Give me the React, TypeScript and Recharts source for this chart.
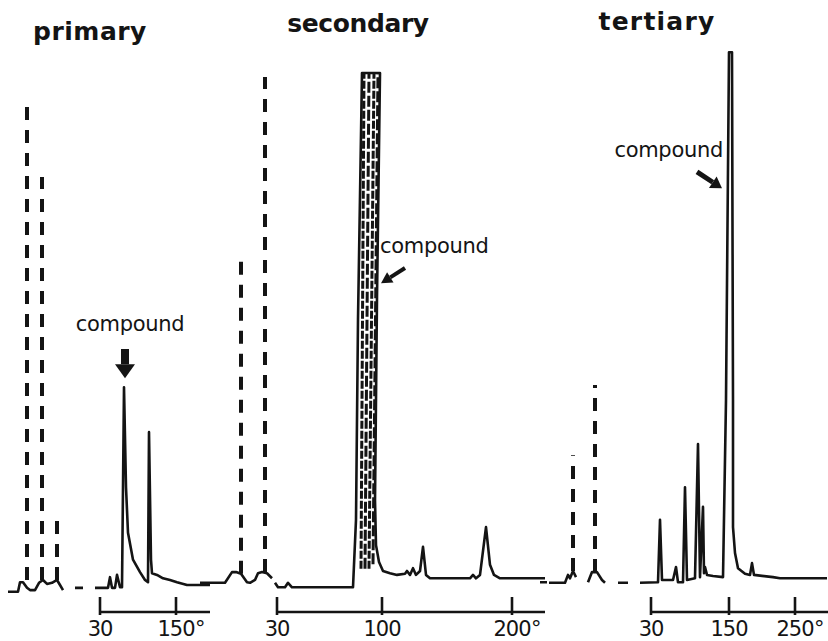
import { LineChart, Line, XAxis, YAxis, ReferenceLine, ReferenceDot } from "recharts"

const INK = "#141414"
const FONT = '"DejaVu Sans", sans-serif'

type Pt = { x: number; y: number | null }

// x = retention position (chart units), y = detector response (% of full scale)
const primaryTrace: Pt[] = [
  { x: 1, y: 3.6 }, { x: 6, y: 3.6 }, { x: 7, y: 5.3 }, { x: 8.5, y: 5.3 }, { x: 10.5, y: 4.3 },
  { x: 12, y: 3.9 }, { x: 14.5, y: 3.9 }, { x: 16.5, y: 5.2 }, { x: 18.5, y: 5.7 }, { x: 20.5, y: 5.0 },
  { x: 23, y: 5.2 }, { x: 25.5, y: 5.7 }, { x: 27, y: 4.8 }, { x: 28.5, y: 3.9 }, { x: 30, y: null },
  { x: 34.5, y: 4.3 }, { x: 38.5, y: 4.3 }, { x: 40, y: null },
  { x: 44.5, y: 4.3 }, { x: 51, y: 4.3 }, { x: 52, y: 6.2 }, { x: 53, y: 4.3 }, { x: 54.5, y: 4.3 },
  { x: 55.5, y: 6.6 }, { x: 57, y: 4.4 }, { x: 58, y: 4.4 }, { x: 59, y: 40.0 }, { x: 60, y: 22.2 },
  { x: 61, y: 14.1 }, { x: 63.5, y: 9.3 }, { x: 67, y: 7.1 }, { x: 69.5, y: 5.7 }, { x: 71, y: 5.3 },
  { x: 71.5, y: 32.0 }, { x: 72.5, y: 9.3 }, { x: 73, y: 6.9 }, { x: 75.5, y: 6.6 }, { x: 78.5, y: 6.0 },
  { x: 82, y: 5.7 }, { x: 85.5, y: 5.3 }, { x: 90.5, y: 4.8 }, { x: 102, y: 4.8 },
]
const primaryPeakX = [10.5, 18, 25.5]
const primaryPeakBase = [5.7, 5.7, 5.7]
const primaryPeakTop = [89.9, 77.4, 17.3]
const primaryTempTicks = [47, 85]
const primaryTempLabels = ["30", "150°"]
const primaryScale = [47, 102]

const secondaryTrace: Pt[] = [
  { x: 0, y: 5.2 }, { x: 12.5, y: 5.2 }, { x: 16, y: 7.1 }, { x: 18, y: 7.1 }, { x: 20.5, y: 6.8 },
  { x: 23.5, y: 5.3 }, { x: 25, y: 5.2 }, { x: 27.5, y: 5.7 }, { x: 29, y: 6.9 }, { x: 31, y: 7.1 },
  { x: 33.5, y: 6.9 }, { x: 36, y: 6.0 }, { x: 37, y: null },
  { x: 37.5, y: 5.2 }, { x: 39, y: 4.4 }, { x: 42.5, y: 4.4 }, { x: 44, y: 5.2 }, { x: 46, y: 4.4 },
  { x: 76.5, y: 4.4 }, { x: 78, y: 16.4 }, { x: 79, y: 52.0 }, { x: 81, y: 95.9 }, { x: 90, y: 95.9 },
  { x: 88.5, y: 56.0 }, { x: 87.5, y: 19.9 }, { x: 88, y: 11.9 }, { x: 89.5, y: 8.9 }, { x: 91.5, y: 7.3 },
  { x: 95, y: 6.9 }, { x: 98.5, y: 6.6 }, { x: 102.5, y: 6.8 }, { x: 103.5, y: 7.3 }, { x: 105, y: 6.6 },
  { x: 106.5, y: 7.8 }, { x: 108, y: 6.6 }, { x: 110, y: 7.3 }, { x: 111.5, y: 11.6 }, { x: 113, y: 6.6 },
  { x: 115, y: 6.0 }, { x: 135, y: 6.0 }, { x: 136.5, y: 6.6 }, { x: 138, y: 6.0 }, { x: 140, y: 6.6 },
  { x: 143, y: 15.1 }, { x: 145, y: 8.4 }, { x: 147, y: 6.6 }, { x: 150, y: 6.0 }, { x: 172.5, y: 6.0 },
]
const secondaryPeakX = [20.5, 32.5]
const secondaryPeakBase = [6.8, 7.1]
const secondaryPeakTop = [62.3, 95.2]
// pen strokes filling the off-scale compound peak
const secondaryInnerFrom = [[80.5, 7.7], [82.5, 7.7], [84.5, 7.7], [86.5, 8.5]]
const secondaryInnerTo = [[82, 95.9], [84.5, 95.9], [87, 95.9], [89, 95.9]]
const secondaryTempTicks = [38.5, 91, 156]
const secondaryTempLabels = ["30", "100", "200°"]
const secondaryScale = [38.5, 172.5]

const tertiaryTrace: Pt[] = [
  { x: 1, y: 5.3 }, { x: 4.5, y: 5.3 }, { x: 5, y: null },
  { x: 5.5, y: 5.2 }, { x: 13.5, y: 5.2 }, { x: 15, y: 6.6 }, { x: 16, y: 6.0 }, { x: 17.5, y: 7.3 },
  { x: 19, y: 6.2 }, { x: 20, y: null },
  { x: 25, y: 5.3 }, { x: 27, y: 7.1 }, { x: 29.5, y: 7.1 }, { x: 32, y: 5.7 }, { x: 33.5, y: 5.2 },
  { x: 35, y: null }, { x: 40, y: 5.2 }, { x: 45, y: 5.2 }, { x: 47, y: null },
  { x: 51, y: 5.2 }, { x: 60, y: 5.3 }, { x: 61, y: 16.4 }, { x: 62, y: 5.7 }, { x: 67.5, y: 5.7 },
  { x: 69, y: 8.0 }, { x: 70, y: 5.3 }, { x: 72.5, y: 5.3 }, { x: 73.5, y: 22.2 }, { x: 74.5, y: 5.7 },
  { x: 78.5, y: 6.0 }, { x: 80, y: 29.9 }, { x: 81, y: 6.2 }, { x: 82.5, y: 18.7 }, { x: 83, y: 6.9 },
  { x: 83.5, y: 8.0 }, { x: 84.5, y: 6.6 }, { x: 87.5, y: 6.4 }, { x: 92.5, y: 6.2 }, { x: 94, y: 37.7 },
  { x: 95.5, y: 99.6 }, { x: 97, y: 99.6 }, { x: 97.5, y: 37.7 }, { x: 97.5, y: 15.1 }, { x: 98.5, y: 10.5 },
  { x: 100, y: 7.8 }, { x: 103.5, y: 6.8 }, { x: 106, y: 6.6 }, { x: 107, y: 8.7 }, { x: 108, y: 6.6 },
  { x: 117.5, y: 6.2 }, { x: 121, y: 6.0 }, { x: 144.5, y: 6.0 },
]
const tertiaryPeakX = [17.5, 28.5]
const tertiaryPeakBase = [7.3, 7.1]
const tertiaryPeakTop = [27.9, 40.4]
const tertiaryTempTicks = [56.5, 95.5, 128.5]
const tertiaryTempLabels = ["30", "150", "250°"]
const tertiaryScale = [56.5, 145]

const NOTE = "compound"

const arrowShape = (head: number, half: number, stem: number) => (p: any) => {
  const { x1, y1, x2, y2 } = p
  const dx = x2 - x1
  const dy = y2 - y1
  const len = Math.hypot(dx, dy) || 1
  const ux = dx / len
  const uy = dy / len
  const bx = x2 - ux * head
  const by = y2 - uy * head
  const nx = -uy
  const ny = ux
  return (
    <g>
      <line x1={x1} y1={y1} x2={bx} y2={by} stroke={INK} strokeWidth={stem} />
      <polygon
        points={`${x2},${y2} ${bx + nx * half},${by + ny * half} ${bx - nx * half},${by - ny * half}`}
        fill={INK}
      />
    </g>
  )
}

const tempTick = (ticks: number[], labels: string[]) => (props: any) => {
  const { x, y, payload } = props
  const i = ticks.indexOf(payload.value)
  const text = labels[i] ?? String(payload.value)
  const deg = text.endsWith("°")
  const num = deg ? text.slice(0, -1) : text
  return (
    <g>
      <line x1={x} x2={x} y1={y - 15} y2={y + 3} stroke={INK} strokeWidth={2.6} />
      <text x={x} y={y + 24} textAnchor="middle" fontFamily={FONT} fontSize={21} fill={INK} letterSpacing={-1}>
        {num}
      </text>
      {deg && (
        <text x={x + num.length * 6.3} y={y + 24} textAnchor="start" fontFamily={FONT} fontSize={21} fill={INK}>
          °
        </text>
      )}
    </g>
  )
}

type PanelProps = {
  left: number
  width: number
  ml: number
  mr: number
  xMax: number
  trace: Pt[]
  peakX: number[]
  peakBase: number[]
  peakTop: number[]
  innerFrom?: number[][]
  innerTo?: number[][]
  ticks: number[]
  labels: string[]
  scale: number[]
  noteAt: number[]
  noteAnchor: "start" | "middle" | "end"
  arrow: number[][]
  arrowSize: number[]
}

function Panel(p: PanelProps) {
  const cols = p.peakX.map((x, i) => [
    { x, y: p.peakBase[i] },
    { x, y: p.peakTop[i] },
  ])
  const inner = (p.innerFrom ?? []).map((f, i) => [
    { x: f[0], y: f[1] },
    { x: p.innerTo![i][0], y: p.innerTo![i][1] },
  ])
  return (
    <div style={{ position: "absolute", left: p.left, top: 0 }}>
      <LineChart width={p.width} height={641} margin={{ top: 50, right: p.mr, bottom: 0, left: p.ml }}>
        <XAxis
          type="number"
          dataKey="x"
          domain={[0, p.xMax]}
          allowDataOverflow
          ticks={p.ticks}
          interval={0}
          axisLine={false}
          tickLine={false}
          tickSize={0}
          tickMargin={0}
          height={29}
          tick={tempTick(p.ticks, p.labels)}
        />
        <YAxis type="number" domain={[0, 100]} hide allowDataOverflow />
        <ReferenceLine
          segment={[{ x: p.scale[0], y: 0 }, { x: p.scale[1], y: 0 }]}
          stroke={INK}
          strokeWidth={2.6}
          ifOverflow="visible"
        />
        {cols.map((d, i) => (
          <Line
            key={`c${i}`}
            data={d}
            dataKey="y"
            stroke={INK}
            strokeWidth={4}
            strokeDasharray="13 10"
            dot={false}
            isAnimationActive={false}
          />
        ))}
        {inner.map((d, i) => (
          <Line
            key={`b${i}`}
            data={d}
            dataKey="y"
            stroke={INK}
            strokeWidth={3}
            strokeDasharray={i % 2 ? "11 3" : "8 2"}
            dot={false}
            isAnimationActive={false}
          />
        ))}
        <Line
          data={p.trace}
          dataKey="y"
          stroke={INK}
          strokeWidth={2.6}
          strokeLinejoin="round"
          dot={false}
          isAnimationActive={false}
        />
        <ReferenceLine
          segment={[{ x: p.arrow[0][0], y: p.arrow[0][1] }, { x: p.arrow[1][0], y: p.arrow[1][1] }]}
          ifOverflow="visible"
          shape={arrowShape(p.arrowSize[0], p.arrowSize[1], p.arrowSize[2])}
        />
        <ReferenceDot
          x={p.noteAt[0]}
          y={p.noteAt[1]}
          ifOverflow="visible"
          shape={(s: any) => (
            <text x={s.cx} y={s.cy} textAnchor={p.noteAnchor} fontFamily={FONT} fontSize={21} fill={INK} letterSpacing={-0.3}>
              {NOTE}
            </text>
          )}
        />
      </LineChart>
    </div>
  )
}

const titleStyle = (left: number, top: number, width: number, spacing: number): React.CSSProperties => ({
  position: "absolute",
  left,
  top,
  width,
  textAlign: "center",
  fontFamily: FONT,
  fontWeight: 700,
  fontSize: 25,
  lineHeight: "25px",
  letterSpacing: spacing,
  color: INK,
})

export default function App() {
  return (
    <div style={{ position: "absolute", left: 0, top: 0, width: 828, height: 641, background: "#fff", overflow: "hidden" }}>
      <div style={titleStyle(20, 19, 140, 0.5)}>primary</div>
      <div style={titleStyle(278, 11, 160, -0.4)}>secondary</div>
      <div style={titleStyle(577, 9, 160, 1.2)}>tertiary</div>
      <Panel
        left={0}
        width={215}
        ml={6}
        mr={3}
        xMax={103}
        trace={primaryTrace}
        peakX={primaryPeakX}
        peakBase={primaryPeakBase}
        peakTop={primaryPeakTop}
        ticks={primaryTempTicks}
        labels={primaryTempLabels}
        scale={primaryScale}
        noteAt={[62, 50.0]}
        noteAnchor="middle"
        arrow={[[59.5, 46.8], [59.5, 41.6]]}
        arrowSize={[14, 10, 8]}
      />
      <Panel
        left={190}
        width={360}
        ml={10}
        mr={4}
        xMax={173}
        trace={secondaryTrace}
        peakX={secondaryPeakX}
        peakBase={secondaryPeakBase}
        peakTop={secondaryPeakTop}
        innerFrom={secondaryInnerFrom}
        innerTo={secondaryInnerTo}
        ticks={secondaryTempTicks}
        labels={secondaryTempLabels}
        scale={secondaryScale}
        noteAt={[90, 63.9]}
        noteAnchor="start"
        arrow={[[102.5, 61.2], [90.5, 58.5]]}
        arrowSize={[11, 6, 4]}
      />
      <Panel
        left={530}
        width={298}
        ml={8}
        mr={0}
        xMax={145}
        trace={tertiaryTrace}
        peakX={tertiaryPeakX}
        peakBase={tertiaryPeakBase}
        peakTop={tertiaryPeakTop}
        ticks={tertiaryTempTicks}
        labels={tertiaryTempLabels}
        scale={tertiaryScale}
        noteAt={[92.5, 81.0]}
        noteAnchor="end"
        arrow={[[79.5, 78.3], [92, 75.4]]}
        arrowSize={[11, 7, 5]}
      />
    </div>
  )
}
